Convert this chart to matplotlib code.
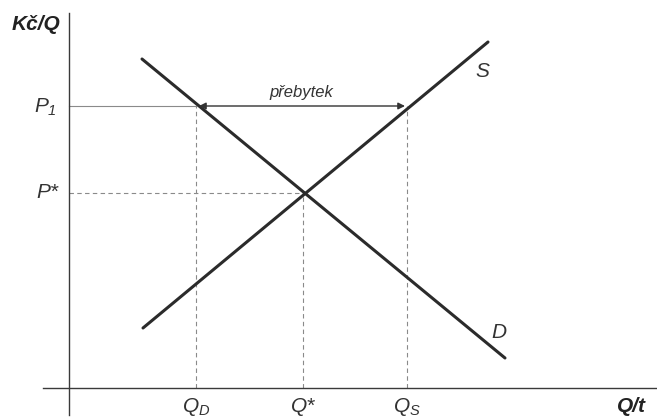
import matplotlib.pyplot as plt

plt.rcParams["font.family"] = ["Liberation Sans", "DejaVu Sans"]
plt.rcParams["mathtext.fontset"] = "custom"
plt.rcParams["mathtext.rm"] = "Liberation Sans:italic"
plt.rcParams["mathtext.it"] = "Liberation Sans:italic"

# supply / demand line endpoints (Q, price)
demand_q = [0.73, 4.36]
demand_p = [3.29, 0.30]
supply_q = [0.74, 4.19]
supply_p = [0.60, 3.46]

# marked levels
q_levels = [1.27, 2.34, 3.38]  # Q_D, Q*, Q_S
q_labels = [r"$Q_D$", "Q*", r"$Q_S$"]
p1 = 2.82
p_star = 1.95

LINE_COLOR = "#2b2b2b"
GUIDE_COLOR = "#8a8a8a"

fig = plt.figure(figsize=(6.57, 4.17), dpi=100)
ax = fig.add_axes([0, 0, 1, 1])
ax.set_xlim(-0.69, 5.88)
ax.set_ylim(-0.29, 3.88)

# axes through the origin, slightly overshooting like a hand drawn diagram
for side in ("top", "right"):
    ax.spines[side].set_visible(False)
ax.spines["left"].set_position(("data", 0))
ax.spines["bottom"].set_position(("data", 0))
ax.spines["left"].set_bounds(-0.27, 3.75)
ax.spines["bottom"].set_bounds(-0.26, 5.88)
for side in ("left", "bottom"):
    ax.spines[side].set_color("#3a3a3a")
    ax.spines[side].set_linewidth(1.0)
ax.set_xticks([])
ax.set_yticks([])

# guide lines
q_d, q_eq, q_s = q_levels
ax.plot([0, q_d], [p1, p1], color=GUIDE_COLOR, lw=0.8)
ax.plot([0, q_eq], [p_star, p_star], color=GUIDE_COLOR, lw=0.8, ls=(0, (4, 3)))
ax.plot([q_d, q_d], [0, p1], color=GUIDE_COLOR, lw=0.8, ls=(0, (4, 3)))
ax.plot([q_eq, q_eq], [0, p_star], color=GUIDE_COLOR, lw=0.8, ls=(0, (4, 3)))
ax.plot([q_s, q_s], [0, p1], color=GUIDE_COLOR, lw=0.8, ls=(0, (4, 3)))

# curves
ax.plot(demand_q, demand_p, color=LINE_COLOR, lw=2.2, solid_capstyle="round")
ax.plot(supply_q, supply_p, color=LINE_COLOR, lw=2.2, solid_capstyle="round")

# surplus arrow
ax.annotate(
    "",
    xy=(q_s - 0.02, p1),
    xytext=(q_d + 0.03, p1),
    arrowprops=dict(arrowstyle="<|-|>", color="#333333", lw=1.0,
                    mutation_scale=10, shrinkA=0, shrinkB=0),
)
ax.text((q_d + q_s) / 2, 2.91, "přebytek", fontsize=12, style="italic",
        ha="center", va="baseline", color="#333333")

# labels
ax.text(-0.09, 3.58, "Kč/Q", fontsize=15, style="italic", fontweight="bold",
        ha="right", va="baseline", color="#222222")
ax.text(5.62, -0.24, "Q/t", fontsize=15, style="italic", fontweight="bold",
        ha="center", va="baseline", color="#222222")
ax.text(-0.12, p1 - 0.07, r"$P_1$", fontsize=15,
        ha="right", va="baseline", color="#333333")
ax.text(-0.11, p_star - 0.05, "P*", fontsize=15, style="italic",
        ha="right", va="baseline", color="#333333")
for q, lab in zip(q_levels, q_labels):
    ax.text(q, -0.24, lab, fontsize=15, style="italic",
            ha="center", va="baseline", color="#333333")
ax.text(4.13, 3.11, "S", fontsize=15, style="italic",
        ha="center", va="baseline", color="#333333")
ax.text(4.30, 0.50, "D", fontsize=15, style="italic",
        ha="center", va="baseline", color="#333333")

fig.savefig("out.png", dpi=100)
